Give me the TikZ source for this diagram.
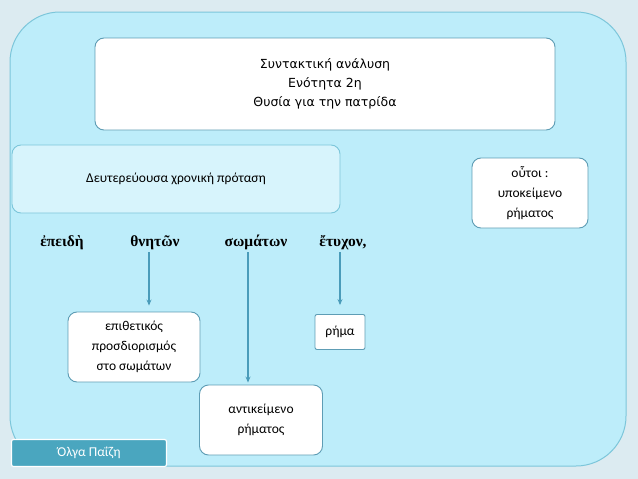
\documentclass[tikz,border=0pt]{standalone}
\usepackage{fontspec}
\usetikzlibrary{arrows.meta}
\setmainfont{Carlito}
\newfontfamily\dejav{DejaVu Sans}
\newfontfamily\grserif{Liberation Serif}
\definecolor{bgout}{HTML}{DCEBF1}
\definecolor{panel}{HTML}{BDEDFA}
\definecolor{panelb}{HTML}{7CC6DA}
\definecolor{boxb}{HTML}{5E9DB5}
\definecolor{arr}{HTML}{4A9CBA}
\definecolor{tag}{HTML}{4AA6BF}
\begin{document}
\begin{tikzpicture}[x=1pt,y=-1pt,
  wbox/.style={draw=boxb,line width=0.9pt,fill=white,rounded corners=9pt,align=center,inner sep=0pt},
  word/.style={font=\grserif\bfseries\fontsize{15.5}{18}\selectfont,anchor=base},
  con/.style={draw=arr,line width=1.6pt,-{Stealth[length=6pt,width=5pt]}}]
\useasboundingbox (0,0) rectangle (638,479);
\fill[bgout] (0,0) rectangle (638,479);
\draw[panelb,fill=panel,line width=1pt,rounded corners=50pt] (10,12) rectangle (626,466);
\node[wbox,minimum width=460pt,minimum height=92pt,font=\dejav\fontsize{12.5}{19}\selectfont] (title) at (325,84)
  {Συντακτική ανάλυση\\Ενότητα 2η\\Θυσία για την πατρίδα};
\node[wbox,fill=panel!60!white,draw=panelb,minimum width=328pt,minimum height=68pt,font=\fontsize{13.5}{16}\selectfont] (sub) at (176,179) {Δευτερεύουσα χρονική πρόταση};
\node[wbox,minimum width=116pt,minimum height=70pt,font=\fontsize{13.5}{20}\selectfont] (outoi) at (530,193) {οὗτοι :\\υποκείμενο\\ρήματος};
\node[word] (w1) at (62,246) {ἐπειδὴ};
\node[word] (w2) at (155,246) {θνητῶν};
\node[word] (w3) at (256,246) {σωμάτων};
\node[word] (w4) at (343,246) {ἔτυχον,};
\node[wbox,minimum width=132pt,minimum height=70pt,font=\fontsize{13.5}{20}\selectfont] (epith) at (134,347) {επιθετικός\\προσδιορισμός\\στο σωμάτων};
\node[wbox,rounded corners=2pt,minimum width=50pt,minimum height=35pt,font=\fontsize{13.5}{16}\selectfont] (rima) at (340,332) {ρήμα};
\node[wbox,minimum width=123pt,minimum height=70pt,font=\fontsize{13.5}{20}\selectfont] (antik) at (261,420) {αντικείμενο\\ρήματος};
\node[draw=white,line width=1.2pt,fill=tag,rounded corners=2pt,minimum width=155pt,minimum height=27pt,text=white,font=\fontsize{13.5}{16}\selectfont] (name) at (89,453) {Όλγα Παΐζη};
\coordinate (a1) at (149,252);
\coordinate (a2) at (248,252);
\coordinate (a3) at (340,252);
\draw[con] (a1) -- ([yshift=6pt]epith.north -| a1);
\draw[con] (a2) -- ([yshift=2pt]antik.north -| a2);
\draw[con] (a3) -- ([yshift=9pt]rima.north -| a3);
\end{tikzpicture}
\end{document}
